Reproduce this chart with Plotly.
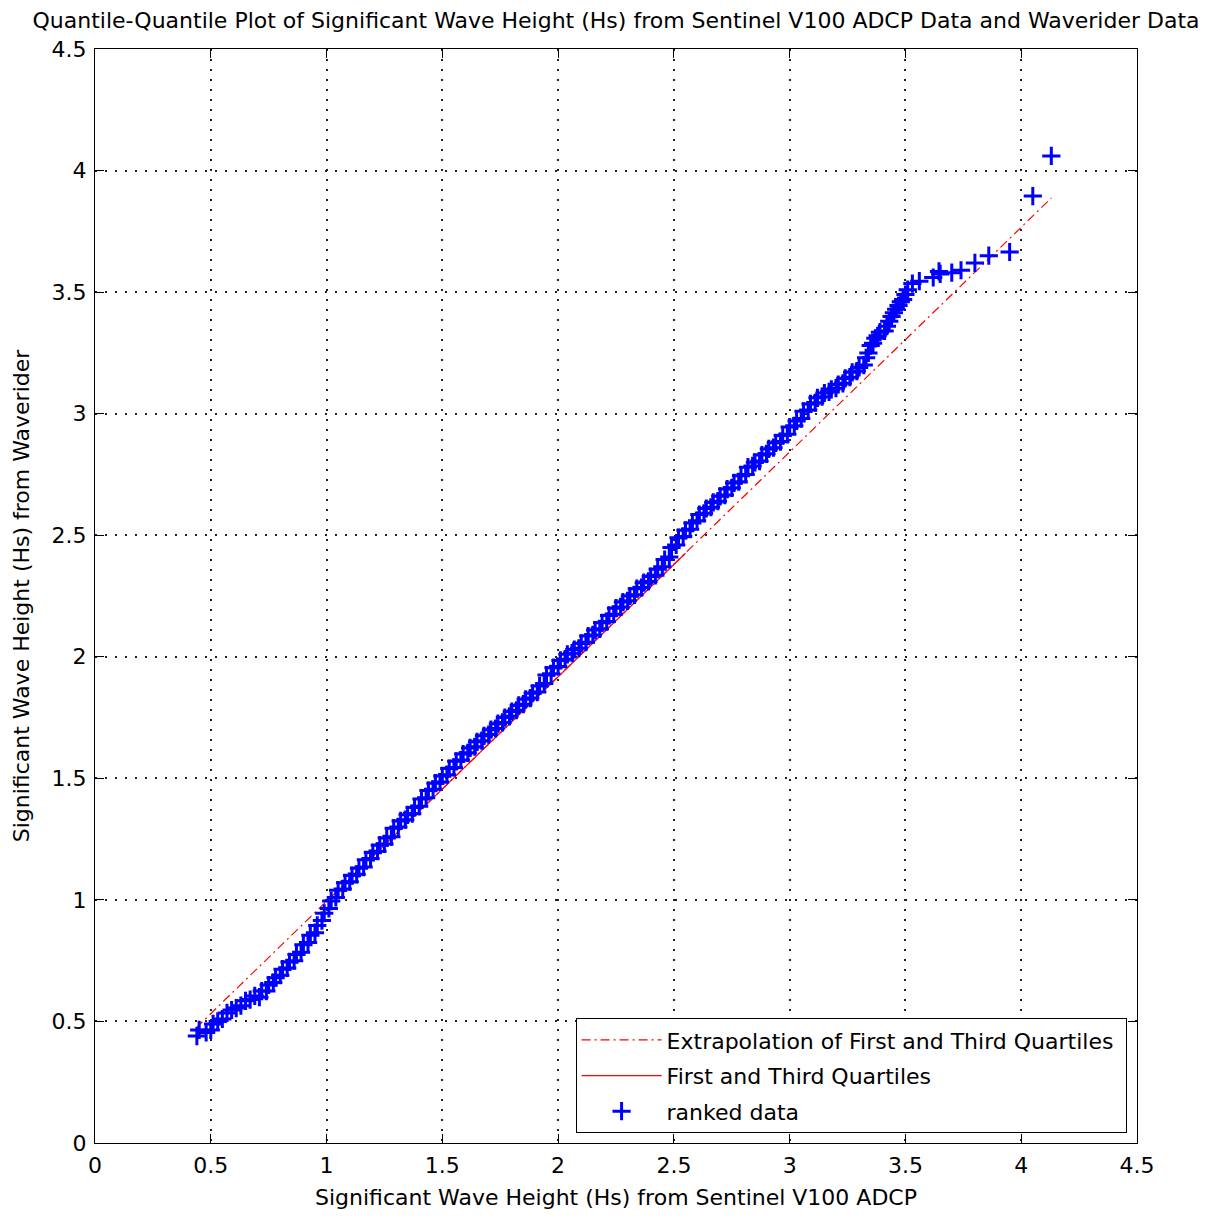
import plotly.graph_objects as go

# ranked data (ADCP Hs vs Waverider Hs quantiles)
adcp_q = [0.44, 0.45, 0.48, 0.50, 0.51, 0.53, 0.55, 0.57, 0.59, 0.61, 0.63, 0.65,
          0.67, 0.69, 0.71, 0.72, 0.74, 0.75, 0.77, 0.78, 0.80, 0.81, 0.83, 0.84,
          0.86, 0.87, 0.89, 0.90, 0.92, 0.93, 0.95, 0.96, 0.98, 0.99, 1.01, 1.02,
          1.04, 1.05, 1.07, 1.08, 1.10, 1.11, 1.13, 1.14, 1.16, 1.17, 1.19, 1.20,
          1.22, 1.23, 1.25, 1.26, 1.28, 1.29, 1.31, 1.32, 1.34, 1.35, 1.37, 1.38,
          1.40, 1.41, 1.43, 1.44, 1.46, 1.47, 1.49, 1.50, 1.52, 1.53, 1.55, 1.56,
          1.58, 1.59, 1.61, 1.62, 1.64, 1.65, 1.67, 1.68, 1.70, 1.71, 1.73, 1.74,
          1.76, 1.77, 1.79, 1.80, 1.82, 1.83, 1.85, 1.86, 1.88, 1.89, 1.91, 1.92,
          1.94, 1.95, 1.97, 1.98, 2.00, 2.01, 2.03, 2.04, 2.06, 2.07, 2.09, 2.10,
          2.12, 2.13, 2.15, 2.16, 2.18, 2.19, 2.21, 2.22, 2.24, 2.25, 2.27, 2.28,
          2.30, 2.31, 2.33, 2.34, 2.36, 2.37, 2.39, 2.40, 2.42, 2.43, 2.45, 2.46,
          2.48, 2.49, 2.51, 2.52, 2.54, 2.55, 2.57, 2.58, 2.60, 2.61, 2.63, 2.64,
          2.66, 2.67, 2.69, 2.70, 2.72, 2.73, 2.75, 2.76, 2.78, 2.79, 2.81, 2.82,
          2.84, 2.85, 2.87, 2.88, 2.90, 2.91, 2.93, 2.94, 2.96, 2.97, 2.99, 3.00,
          3.02, 3.03, 3.05, 3.06, 3.08, 3.09, 3.11, 3.12, 3.14, 3.15, 3.17, 3.18,
          3.20, 3.21, 3.23, 3.24, 3.26, 3.27, 3.29, 3.30, 3.32, 3.33, 3.34, 3.35,
          3.36, 3.37, 3.38, 3.39, 3.41, 3.42, 3.43, 3.44, 3.45, 3.46, 3.47, 3.48,
          3.49, 3.50, 3.51, 3.53, 3.56, 3.62, 3.645, 3.65, 3.70, 3.74, 3.80, 3.86,
          3.95, 4.05, 4.13]
waverider_q = [0.44, 0.465, 0.455, 0.465, 0.49, 0.50, 0.51, 0.535, 0.547, 0.555, 0.565, 0.585,
               0.59, 0.605, 0.60, 0.625, 0.625, 0.65, 0.66, 0.68, 0.69, 0.715, 0.72, 0.745,
               0.75, 0.775, 0.785, 0.815, 0.825, 0.855, 0.865, 0.895, 0.915, 0.945, 0.965, 0.995,
               1.01, 1.04, 1.045, 1.07, 1.075, 1.10, 1.105, 1.13, 1.135, 1.165, 1.17, 1.195,
               1.20, 1.225, 1.23, 1.255, 1.26, 1.295, 1.30, 1.325, 1.33, 1.35, 1.355, 1.38,
               1.385, 1.415, 1.42, 1.45, 1.455, 1.48, 1.485, 1.51, 1.515, 1.54, 1.545, 1.57,
               1.575, 1.60, 1.605, 1.625, 1.63, 1.65, 1.655, 1.675, 1.68, 1.70, 1.705, 1.725,
               1.73, 1.75, 1.755, 1.775, 1.78, 1.80, 1.805, 1.825, 1.83, 1.85, 1.855, 1.88,
               1.89, 1.925, 1.93, 1.955, 1.96, 1.985, 1.99, 2.01, 2.015, 2.03, 2.035, 2.055,
               2.06, 2.085, 2.09, 2.11, 2.115, 2.14, 2.145, 2.17, 2.175, 2.20, 2.205, 2.225,
               2.23, 2.25, 2.255, 2.28, 2.285, 2.305, 2.31, 2.33, 2.335, 2.36, 2.37, 2.40,
               2.41, 2.45, 2.46, 2.49, 2.495, 2.52, 2.525, 2.55, 2.56, 2.585, 2.59, 2.61,
               2.615, 2.635, 2.64, 2.66, 2.665, 2.69, 2.695, 2.715, 2.72, 2.745, 2.75, 2.78,
               2.785, 2.80, 2.805, 2.83, 2.835, 2.855, 2.86, 2.88, 2.885, 2.91, 2.915, 2.945,
               2.95, 2.97, 2.98, 3.01, 3.015, 3.04, 3.045, 3.065, 3.07, 3.085, 3.09, 3.10,
               3.105, 3.12, 3.125, 3.145, 3.15, 3.17, 3.175, 3.19, 3.20, 3.23, 3.25, 3.28,
               3.29, 3.31, 3.32, 3.335, 3.34, 3.36, 3.38, 3.40, 3.415, 3.43, 3.445, 3.46,
               3.47, 3.49, 3.51, 3.535, 3.545, 3.56, 3.585, 3.575, 3.58, 3.59, 3.62, 3.65,
               3.665, 3.895, 4.06]

# reference lines through first and third quartiles
extrap_x = [0.436, 4.13]
extrap_y = [0.473, 3.887]
quart_x = [1.20, 2.55]
quart_y = [1.179, 2.426]

ticks = [0, 0.5, 1, 1.5, 2, 2.5, 3, 3.5, 4, 4.5]
tick_text = ["0", "0.5", "1", "1.5", "2", "2.5", "3", "3.5", "4", "4.5"]

FONT = "DejaVu Sans"
FS = 22

fig = go.Figure()
fig.add_trace(go.Scatter(x=extrap_x, y=extrap_y, mode="lines", legendgroup="a",
                         name="Extrapolation of First and Third Quartiles\u00a0",
                         line=dict(color="red", width=1.2, dash="9px,4px,2px,4px")))
fig.add_trace(go.Scatter(x=quart_x, y=quart_y, mode="lines", legendgroup="b",
                         name="First and Third Quartiles",
                         line=dict(color="red", width=1.2)))
fig.add_trace(go.Scatter(x=adcp_q, y=waverider_q, mode="markers", name="ranked data",
                         legendgroup="c",
                         marker=dict(symbol="cross-thin", size=13, color="blue",
                                     line=dict(color="blue", width=3))))

axis_common = dict(
    range=[0, 4.5], tickvals=ticks, ticktext=tick_text,
    showline=True, linecolor="black", linewidth=1, mirror="ticks",
    ticks="inside", ticklen=9, tickcolor="black", tickwidth=1,
    showgrid=True, gridcolor="#222222", gridwidth=1.5, griddash="2px,8px",
    zeroline=False, tickfont=dict(family=FONT, size=FS, color="black"),
    automargin=False, ticklabelstandoff=3,
)

fig.update_layout(
    width=1211, height=1218,
    margin=dict(l=95, r=74, t=49, b=75),
    paper_bgcolor="white", plot_bgcolor="white",
    font=dict(family=FONT, color="black"),
    title=dict(text="Quantile-Quantile Plot of Significant Wave Height (Hs) from Sentinel V100 ADCP Data and Waverider Data",
               x=0.5, xref="paper", xanchor="center", y=1 - 20 / 1218, yref="container",
               yanchor="middle", font=dict(family=FONT, size=FS, color="black")),
    xaxis=dict(axis_common,
               title=dict(text="Significant Wave Height (Hs) from Sentinel V100 ADCP",
                          font=dict(family=FONT, size=FS, color="black"), standoff=12)),
    yaxis=dict(axis_common,
               title=dict(text="Significant Wave Height (Hs) from Waverider",
                          font=dict(family=FONT, size=FS, color="black"), standoff=15)),
    legend=dict(x=0.990, y=0.009, xanchor="right", yanchor="bottom",
                bgcolor="white", bordercolor="black", borderwidth=1,
                font=dict(family=FONT, size=FS, color="black"),
                itemwidth=80, traceorder="grouped", tracegroupgap=4),
    showlegend=True,
)

fig.write_html("out.html")
